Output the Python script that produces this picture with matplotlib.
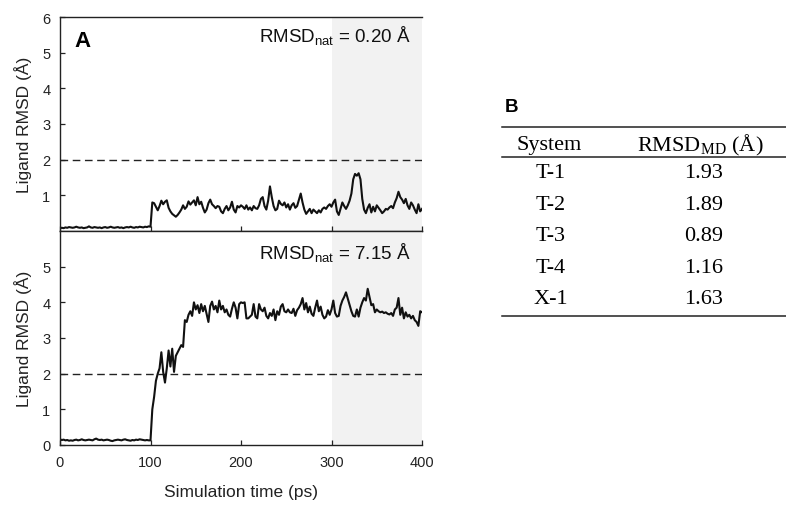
import numpy as np
import matplotlib
matplotlib.use("Agg")
import matplotlib.pyplot as plt

plt.rcParams["font.family"] = ["Liberation Sans", "DejaVu Sans"]
plt.rcParams["mathtext.fontset"] = "custom"
plt.rcParams["mathtext.rm"] = "Liberation Serif"
plt.rcParams["mathtext.sf"] = "Liberation Sans"

# Ligand RMSD traces, sampled every 2 ps from 0 to 400 ps
native_start = [0.08, 0.09, 0.08, 0.10, 0.09, 0.11, 0.10, 0.09, 0.10, 0.12,
                0.10, 0.09, 0.10, 0.08, 0.09, 0.10, 0.13, 0.10, 0.09, 0.11,
                0.10, 0.09, 0.10, 0.08, 0.10, 0.11, 0.09, 0.10, 0.12, 0.10,
                0.09, 0.10, 0.11, 0.09, 0.10, 0.08, 0.10, 0.11, 0.10, 0.12,
                0.10, 0.09, 0.11, 0.10, 0.12, 0.11, 0.10, 0.12, 0.11, 0.13,
                0.12]
native_mid = [0.80, 0.78, 0.68, 0.58, 0.70, 0.85, 0.75, 0.82, 0.86, 0.65,
              0.55, 0.48, 0.44, 0.40, 0.45, 0.52, 0.60, 0.72, 0.62, 0.68,
              0.83, 0.74, 0.80, 0.86, 0.72, 0.95, 0.75, 0.82, 0.65, 0.52,
              0.60, 0.78, 0.88, 0.75, 0.70, 0.64, 0.70, 0.68, 0.55, 0.50,
              0.62, 0.70, 0.58, 0.66, 0.82, 0.60, 0.52, 0.70, 0.66, 0.72]
native_end = [0.68, 0.62, 0.72, 0.60, 0.66, 0.58, 0.70, 0.64, 0.62, 0.72,
              0.90, 0.95, 0.70, 0.60, 0.85, 1.25, 0.95, 0.70, 0.58, 0.62,
              0.85, 0.76, 0.72, 0.80, 0.66, 0.75, 0.60, 0.72, 0.78, 0.65,
              0.70, 0.88, 1.05, 0.80, 0.60, 0.48, 0.55, 0.62, 0.50, 0.60,
              0.55, 0.50, 0.58, 0.52, 0.62, 0.66, 0.62, 0.70, 0.75, 0.68,
              0.80, 0.88, 0.55, 0.45, 0.62, 0.80, 0.70, 0.62, 0.72, 0.85,
              1.05, 1.45, 1.60, 1.55, 1.62, 1.45, 0.90, 0.60, 0.50, 0.65,
              0.75, 0.52, 0.68, 0.55, 0.72, 0.65, 0.58, 0.50, 0.55, 0.62,
              0.60, 0.66, 0.70, 0.64, 0.80, 0.92, 1.10, 0.95, 0.88, 0.78,
              0.90, 0.72, 0.62, 0.80, 0.72, 0.60, 0.50, 0.75, 0.55, 0.62]

decoy_start = [0.16, 0.14, 0.15, 0.13, 0.14, 0.12, 0.13, 0.12, 0.14, 0.15,
               0.13, 0.14, 0.16, 0.14, 0.13, 0.14, 0.15, 0.14, 0.13, 0.16,
               0.18, 0.15, 0.14, 0.15, 0.13, 0.14, 0.15, 0.14, 0.12, 0.11,
               0.13, 0.14, 0.15, 0.14, 0.13, 0.15, 0.16, 0.14, 0.13, 0.12,
               0.14, 0.13, 0.15, 0.14, 0.16, 0.15, 0.14, 0.13, 0.14, 0.13,
               0.13]
decoy_mid = [1.00, 1.35, 1.80, 2.00, 2.15, 2.60, 2.05, 1.75, 2.15, 2.65,
             2.20, 2.70, 2.05, 2.50, 2.60, 2.70, 2.80, 2.75, 3.50, 3.45,
             3.65, 3.75, 3.62, 4.00, 3.80, 3.92, 3.70, 3.95, 3.75, 3.90,
             3.68, 3.45, 3.90, 4.02, 3.80, 3.90, 3.72, 4.05, 3.80, 3.90,
             3.72, 3.80, 3.65, 3.60, 3.82, 4.00, 3.85, 3.55, 3.95, 4.00]
decoy_end = [3.98, 4.00, 3.55, 3.55, 3.60, 3.65, 3.95, 3.60, 3.55, 3.95,
             3.80, 3.75, 3.85, 3.62, 3.55, 3.70, 3.62, 3.80, 3.50, 3.75,
             3.65, 3.88, 3.95, 3.75, 3.72, 3.80, 3.72, 3.70, 3.82, 3.62,
             3.78, 3.85, 3.95, 4.12, 3.80, 3.98, 3.72, 3.88, 3.68, 3.62,
             3.85, 4.05, 3.75, 3.88, 3.65, 3.55, 3.60, 3.78, 3.65, 3.80,
             4.05, 3.70, 3.60, 3.62, 3.90, 4.05, 4.15, 4.28, 4.10, 3.92,
             3.75, 3.62, 3.60, 3.80, 3.60, 3.85, 4.00, 4.12, 4.05, 4.38,
             4.15, 3.92, 3.95, 3.72, 3.80, 3.75, 3.72, 3.74, 3.70, 3.72,
             3.68, 3.66, 3.70, 3.62, 3.80, 3.85, 4.12, 3.65, 3.85, 3.55,
             3.72, 3.60, 3.65, 3.55, 3.62, 3.50, 3.45, 3.34, 3.75, 3.72]

native_rmsd = native_start + native_mid + native_end
decoy_rmsd = decoy_start + decoy_mid + decoy_end
time_ps = np.linspace(0, 400, len(native_rmsd))

rmsd_nat = [0.20, 7.15]
cutoff = 2.0
window = (300, 400)

# Table B
systems = ["T-1", "T-2", "T-3", "T-4", "X-1"]
rmsd_md = [1.93, 1.89, 0.89, 1.16, 1.63]

W, H = 786, 506
fig = plt.figure(figsize=(W / 100, H / 100), dpi=100)

left, right = 60 / W, 422 / W
ax_top = fig.add_axes([left, 1 - 232 / H, right - left, 214 / H])
ax_bot = fig.add_axes([left, 1 - 446 / H, right - left, 214 / H], sharex=ax_top)

for ax, y, nat, yticks, ty in [(ax_top, native_rmsd, rmsd_nat[0], range(1, 7), 0.885),
                               (ax_bot, decoy_rmsd, rmsd_nat[1], range(0, 6), 0.872)]:
    ax.axvspan(*window, color="#f2f2f2", lw=0, zorder=0)
    ax.axhline(cutoff, color="#222222", lw=1.0, ls=(0, (5.5, 3.3)), zorder=1)
    ax.plot(time_ps, y, color="#111111", lw=1.5, zorder=2)
    ax.set_xlim(0, 400)
    ax.set_ylim(0, 6)
    ax.set_yticks(list(yticks))
    ax.set_xticks([0, 100, 200, 300, 400])
    ax.tick_params(direction="in", length=3.5, width=0.9, labelsize=10.5,
                   pad=7, colors="#222222")
    for s in ["left", "bottom", "top"]:
        ax.spines[s].set_linewidth(1.0)
        ax.spines[s].set_color("#222222")
    ax.spines["right"].set_visible(False)
    ax.set_ylabel("Ligand RMSD (Å)", fontsize=12.5, labelpad=7, color="#222222")
    ax.text(0.969, ty, r"RMSD$_{\mathsf{nat}}$ = %.2f Å" % nat, transform=ax.transAxes,
            ha="right", va="baseline", fontsize=13.5, color="#111111")

ax_top.tick_params(labelbottom=False)
ax_top.text(0.041, 0.89, "A", transform=ax_top.transAxes, ha="left", va="center",
            fontsize=16, fontweight="bold")
ax_bot.set_xlabel("Simulation time (ps)", fontsize=12.5, labelpad=11, color="#222222")

# Table drawn in pixel coordinates on an overlay axes
tab = fig.add_axes([0, 0, 1, 1], facecolor="none")
tab.set_xlim(0, W)
tab.set_ylim(H, 0)
tab.axis("off")

rule_x = (502, 786)
row_top, row_step = 173.5, 31.6
serif = "Liberation Serif"
tab.text(505, 107, "B", ha="left", va="center", fontsize=13.5, fontweight="bold")
tab.plot(rule_x, [128, 128], color="#222222", lw=1.1)
tab.plot(rule_x, [158, 158], color="#222222", lw=1.1)
tab.plot(rule_x, [317, 317], color="#222222", lw=1.1)
tab.text(549, 145, "System", ha="center", va="center", fontsize=16, family=serif)
tab.text(700, 145, r"RMSD$_{\mathrm{MD}}$ (Å)", ha="center", va="center",
         fontsize=16, family=serif)
for i, (name, val) in enumerate(zip(systems, rmsd_md)):
    yy = row_top + i * row_step
    tab.text(551, yy, name, ha="center", va="center", fontsize=16, family=serif)
    tab.text(704, yy, f"{val:.2f}", ha="center", va="center", fontsize=16, family=serif)

fig.savefig("out.png", dpi=100)
